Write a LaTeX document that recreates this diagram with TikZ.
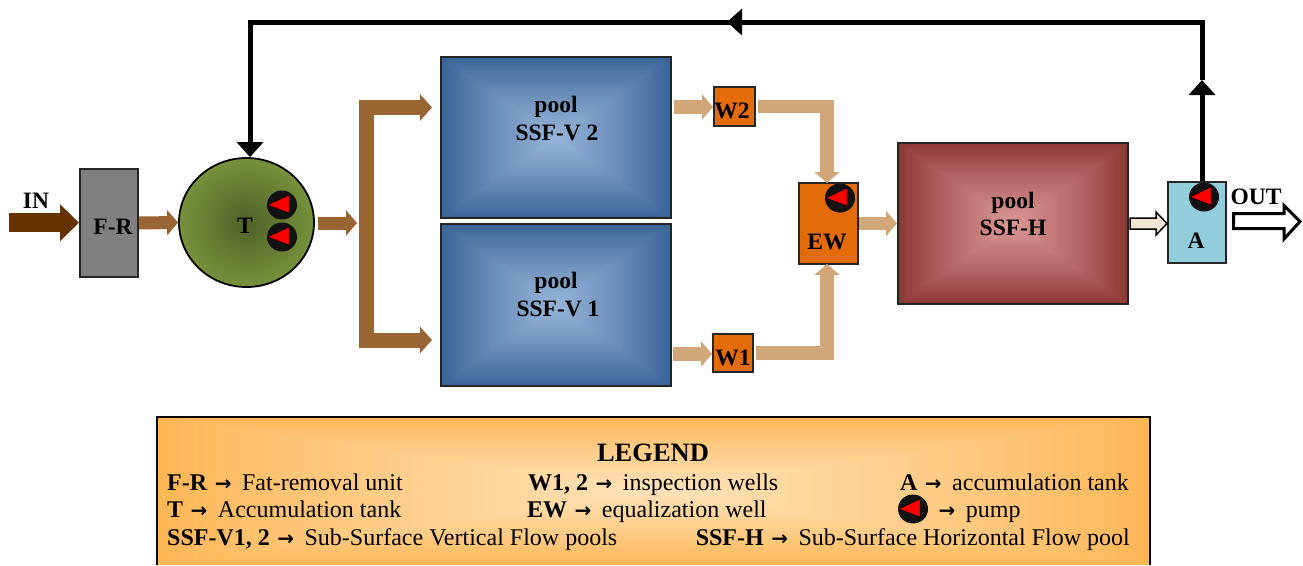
\documentclass[tikz,border=0pt]{standalone}
\usepackage{fontspec}
\setmainfont{Liberation Serif}
\newfontfamily\arfont{DejaVu Sans}
\usetikzlibrary{arrows.meta,shapes.geometric}
\definecolor{blueO}{HTML}{3A6497}
\definecolor{blueI}{HTML}{95B3D7}
\definecolor{redO}{HTML}{8E3735}
\definecolor{redI}{HTML}{D99694}
\definecolor{legO}{HTML}{FFB655}
\definecolor{legI}{HTML}{FFE2B8}
\definecolor{greenO}{HTML}{76923C}
\definecolor{greenI}{HTML}{4F6228}
\definecolor{brownD}{HTML}{663300}
\definecolor{brownM}{HTML}{996633}
\definecolor{tan}{HTML}{D1A779}
\definecolor{orangeW}{HTML}{E36C09}
\definecolor{cyanA}{HTML}{92CDDC}
\definecolor{peach}{HTML}{F2E3D3}
\newcommand{\gradrect}[6]{%
  \foreach \i in {0,...,40}{%
    \pgfmathsetmacro{\pc}{100*(\i/40)^0.85}
    \pgfmathsetmacro{\ff}{(1-\i/41)/2}
    \colorlet{gradtmp}{#6!\pc!#5}
    \fill[gradtmp] ({(#1+#3)/2-(#3-#1)*\ff},{(#2+#4)/2-(#4-#2)*\ff}) rectangle ({(#1+#3)/2+(#3-#1)*\ff},{(#2+#4)/2+(#4-#2)*\ff});
  }}
\newcommand{\pump}[3]{%
  \node[pumpbody] (#1) at (#2,#3) {};
  \fill[red,draw=black,line width=0.5pt,shift={(#1.center)}] (-14,0) -- (7,-10) -- (7,8) -- cycle;}
\newcommand{\lab}[1]{\fontsize{#1}{#1}\selectfont}
\newcommand{\ar}{{\kern1.5pt\arfont\bfseries\fontsize{20}{20}\selectfont →\kern4.5pt}}
\tikzset{
  x=1pt,y=-1pt,
  box/.style={draw=black!85,line width=2pt,inner sep=0pt},
  txt/.style={inner sep=0pt,font=\bfseries\lab{23.5},align=center},
  leg/.style={inner sep=0pt,anchor=base west,font=\lab{24}},
  pumpbody/.style={ellipse,fill=black!93,draw=none,minimum width=30pt,minimum height=29pt,inner sep=0pt},
  flowd/.style={line width=19pt,draw=brownD,-{Triangle[length=19pt,width=36pt]}},
  flowm/.style={line width=13pt,draw=brownM,-{Triangle[length=11pt,width=25pt]}},
  flowt/.style={line width=13.5pt,draw=tan,-{Triangle[length=11pt,width=25pt]}},
  branch/.style={line width=15pt,draw=brownM,{Triangle[length=12pt,width=26pt]}-{Triangle[length=12pt,width=26pt]}},
  fb/.style={line width=5pt,draw=black,line join=miter},
  fbtip/.style={fb,-{Triangle[length=15pt,width=26pt]}},
}
\begin{document}
\begin{tikzpicture}
\useasboundingbox (0,0) rectangle (1303,565);
% gradient fills
\gradrect{441}{57}{671}{218}{blueO}{blueI}
\gradrect{441}{224}{671}{386}{blueO}{blueI}
\gradrect{898}{143}{1128}{304}{redO}{redI}
\gradrect{157}{417}{1150}{565}{legO}{legI}
% nodes
\node[box,minimum width=230pt,minimum height=161pt] (v2) at (556,137.5) {};
\node[box,minimum width=230pt,minimum height=162pt] (v1) at (556,305) {};
\node[box,minimum width=230pt,minimum height=161pt] (h) at (1013,223.5) {};
\node[txt] (v2a) at (556,106.5) {pool};
\node[txt] (v2b) at (557,133) {SSF-V 2};
\node[txt] (v1a) at (556,283) {pool};
\node[txt] (v1b) at (558,309) {SSF-V 1};
\node[txt] (ha) at (1013,203) {pool};
\node[txt] (hb) at (1013,228) {SSF-H};
\node[box,fill=black!50,minimum width=58pt,minimum height=108pt] (fr) at (109,223) {};
\node[txt] (frt) at (113,227) {F-R};
\node[ellipse,draw=black,line width=1.8pt,inner color=greenI,outer color=greenO,minimum width=135pt,minimum height=129pt,inner sep=0pt] (t) at (246.5,222.5) {};
\node[txt] (tt) at (245,226) {T};
\node[box,fill=orangeW,minimum width=41pt,minimum height=39pt] (w2) at (734.5,106.5) {};
\node[txt] (w2t) at (732,111) {W2};
\node[box,fill=orangeW,minimum width=40pt,minimum height=38pt] (w1) at (733,353) {};
\node[txt] (w1t) at (733,358) {W1};
\node[box,fill=orangeW,minimum width=59pt,minimum height=81pt] (ew) at (828.5,223.5) {};
\node[txt] (ewt) at (827,242) {EW};
\node[box,fill=cyanA,minimum width=58pt,minimum height=81pt] (a) at (1197,222.5) {};
\node[txt] (at) at (1196,241) {A};
\node[txt] (int) at (36,201) {IN};
\node[txt] (outt) at (1256,197) {OUT};
% pumps
\pump{p1}{282}{205}
\pump{p2}{282}{237}
\pump{p3}{840}{198}
\pump{p4}{1204}{197}
% coordinates
\coordinate (instart) at (9,222.7);
\coordinate (ts) at (318,223);
\coordinate (jn) at (357,223);
\coordinate (b2) at (432,107.5);
\coordinate (b1) at (432,340);
\coordinate (v2o) at (674,107);
\coordinate (v1o) at (673,354);
\coordinate (w2o) at (758,106.5);
\coordinate (w1o) at (756,353);
\coordinate (cnr) at (1202,22);
\coordinate (cnl) at (250,22);
\coordinate (mid) at (727,22);
\coordinate (upt) at (1202,80);
% connectors
\draw[flowd] (instart) -- (fr.west |- instart);
\draw[flowm] (fr.east) -- (t.west);
\draw[flowm] (ts) -- (jn);
\draw[branch] (b2) -- (366.5,107.5) -- (366.5,340) -- (b1);
\draw[flowt] (v2o) -- (v2o -| w2.west);
\draw[flowt] (v1o) -- (v1o -| w1.west);
\draw[flowt] (w2o) -- (827,106.5) -- (827,183);
\draw[flowt] (w1o) -- (827,353) -- (827,264);
\draw[flowt] (ew.east) -- (h.west);
\draw[draw=black,fill=peach,line width=1.5pt,shift={(h.east)}] (1,-5.5) -- (27,-5.5) -- (27,-11.5) -- (38,0) -- (27,11.5) -- (27,5.5) -- (1,5.5) -- cycle;
\draw[draw=black,fill=white,line width=3pt,miter limit=10,shift={(a.east)}] (6.5,-9) -- (57,-9) -- (57,-17) -- (73,-1) -- (57,16.5) -- (57,6) -- (6.5,6) -- cycle;
\draw[fbtip] (a.north -| cnr) -- (upt);
\draw[fb] (upt) -- (cnr) -- (mid);
\draw[fbtip] (cnr) -- (mid);
\draw[fbtip] (mid) -- (cnl) -- (t.north -| cnl);
% legend
\draw[black,line width=2pt] (157,565) -- (157,417) -- (1150,417) -- (1150,565);
\node[inner sep=0pt,font=\bfseries\lab{26.5}] (lt) at (653,453) {LEGEND};
\node[leg] (l1) at (167,490) {\textbf{F-R} \ar{} Fat-removal unit};
\node[leg] (l2) at (528,490) {\textbf{W1, 2} \ar{} inspection wells};
\node[leg,anchor=base east] (l3) at (1129,490) {\textbf{A} \ar{} accumulation tank};
\node[leg] (l4) at (167,517) {\textbf{T} \ar{} Accumulation tank};
\node[leg] (l5) at (527,517) {\textbf{EW} \ar{} equalization well};
\pump{p5}{913}{509}
\node[leg] (l6) at (937,517) {\ar{} pump};
\node[leg] (l7) at (167,545) {\textbf{SSF-V1, 2} \ar{} Sub-Surface Vertical Flow pools};
\node[leg,anchor=base east] (l8) at (1130,545) {\textbf{SSF-H} \ar{} Sub-Surface Horizontal Flow pool};
\end{tikzpicture}
\end{document}
